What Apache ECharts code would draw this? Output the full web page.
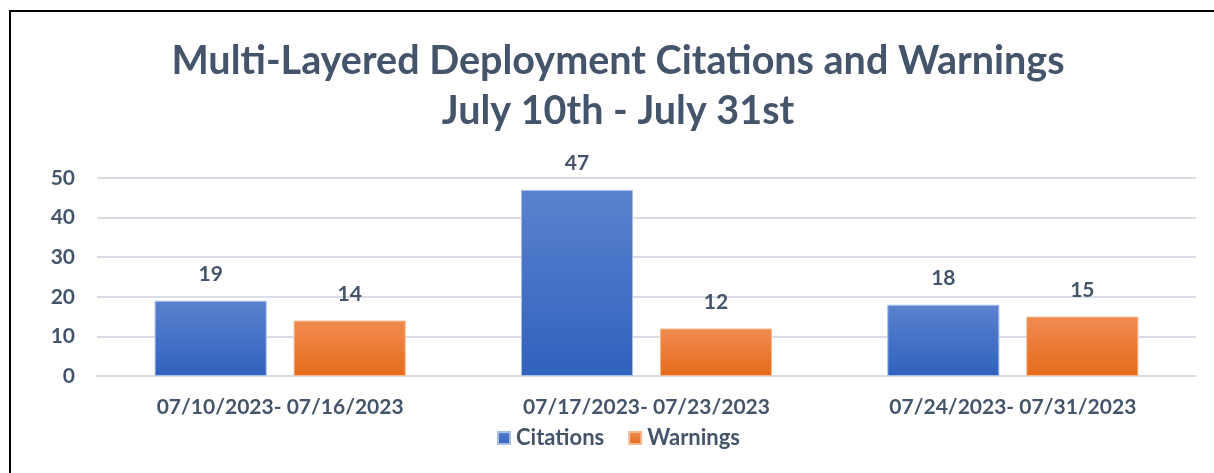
<!DOCTYPE html>
<html>
<head>
<meta charset="utf-8">
<script src="https://cdn.jsdelivr.net/npm/echarts@6/dist/echarts.min.js"></script>
<style>
html,body{margin:0;padding:0;background:#fff;}
#chart{width:1214px;height:473px;}
</style>
</head>
<body>
<div id="chart"></div>
<script>
const titleLines = ['Multi-Layered Deployment Citations and Warnings', 'July 10th - July 31st'];
const categories = ['07/10/2023- 07/16/2023', '07/17/2023- 07/23/2023', '07/24/2023- 07/31/2023'];
const citations = [19, 47, 18];
const warnings = [14, 12, 15];
const seriesNames = ['Citations', 'Warnings'];

const FONT = 'Lato';
const TXT = '#44546a';

const chart = echarts.init(document.getElementById('chart'));
function grad(top, bottom) {
  return new echarts.graphic.LinearGradient(0, 0, 0, 1, [
    {offset: 0, color: top}, {offset: 1, color: bottom}
  ]);
}
chart.setOption({
  backgroundColor: '#ffffff',
  animation: false,
  legend: {
    bottom: 19,
    left: 492,
    itemWidth: 12,
    itemHeight: 12,
    itemGap: 24,
    icon: 'rect',
    textStyle: {fontFamily: FONT, fontSize: 22, color: TXT, fontWeight: 'bold', padding: [0, 0, 0, 1]},
    data: seriesNames
  },
  grid: {left: 97, right: 18, top: 178, bottom: 97, containLabel: false},
  xAxis: {
    type: 'category',
    data: categories,
    axisLine: {lineStyle: {color: '#d9dee6', width: 2}},
    axisTick: {show: false},
    axisLabel: {fontFamily: FONT, fontSize: 21, fontWeight: 'bold', color: TXT, margin: 21}
  },
  yAxis: {
    type: 'value',
    min: 0, max: 50, interval: 10,
    axisLine: {show: false},
    axisTick: {show: false},
    axisLabel: {fontFamily: FONT, fontSize: 21, fontWeight: 'bold', color: TXT, margin: 22},
    splitLine: {lineStyle: {color: '#d9dee6', width: 2}}
  },
  series: [
    {
      name: seriesNames[0], type: 'bar', data: citations,
      barWidth: '30.6%', barGap: '24%',
      itemStyle: {color: grad('#5b82cf', '#2f62bd'), borderColor: '#a9bfe6', borderWidth: 1},
      label: {show: true, position: 'top', distance: 16, fontFamily: FONT, fontSize: 21, fontWeight: 'bold', color: TXT}
    },
    {
      name: seriesNames[1], type: 'bar', data: warnings,
      barWidth: '30.6%',
      itemStyle: {color: grad('#f08b52', '#e66b1a'), borderColor: '#f7b98e', borderWidth: 1},
      label: {show: true, position: 'top', distance: 16, fontFamily: FONT, fontSize: 21, fontWeight: 'bold', color: TXT}
    }
  ],
  graphic: [
    {type: 'text', x: 618, y: 36, z: 10,
     style: {text: titleLines.join('\n'), textAlign: 'center', textVerticalAlign: 'top',
             fontFamily: FONT, fontWeight: 'bold', fontSize: 39.5, lineHeight: 50, fill: TXT}},
    {type: 'line', shape: {x1: 9, y1: 11, x2: 1214, y2: 11}, style: {stroke: '#000', lineWidth: 2}},
    {type: 'line', shape: {x1: 10, y1: 10, x2: 10, y2: 473}, style: {stroke: '#000', lineWidth: 2}}
  ]
});
</script>
</body>
</html>
